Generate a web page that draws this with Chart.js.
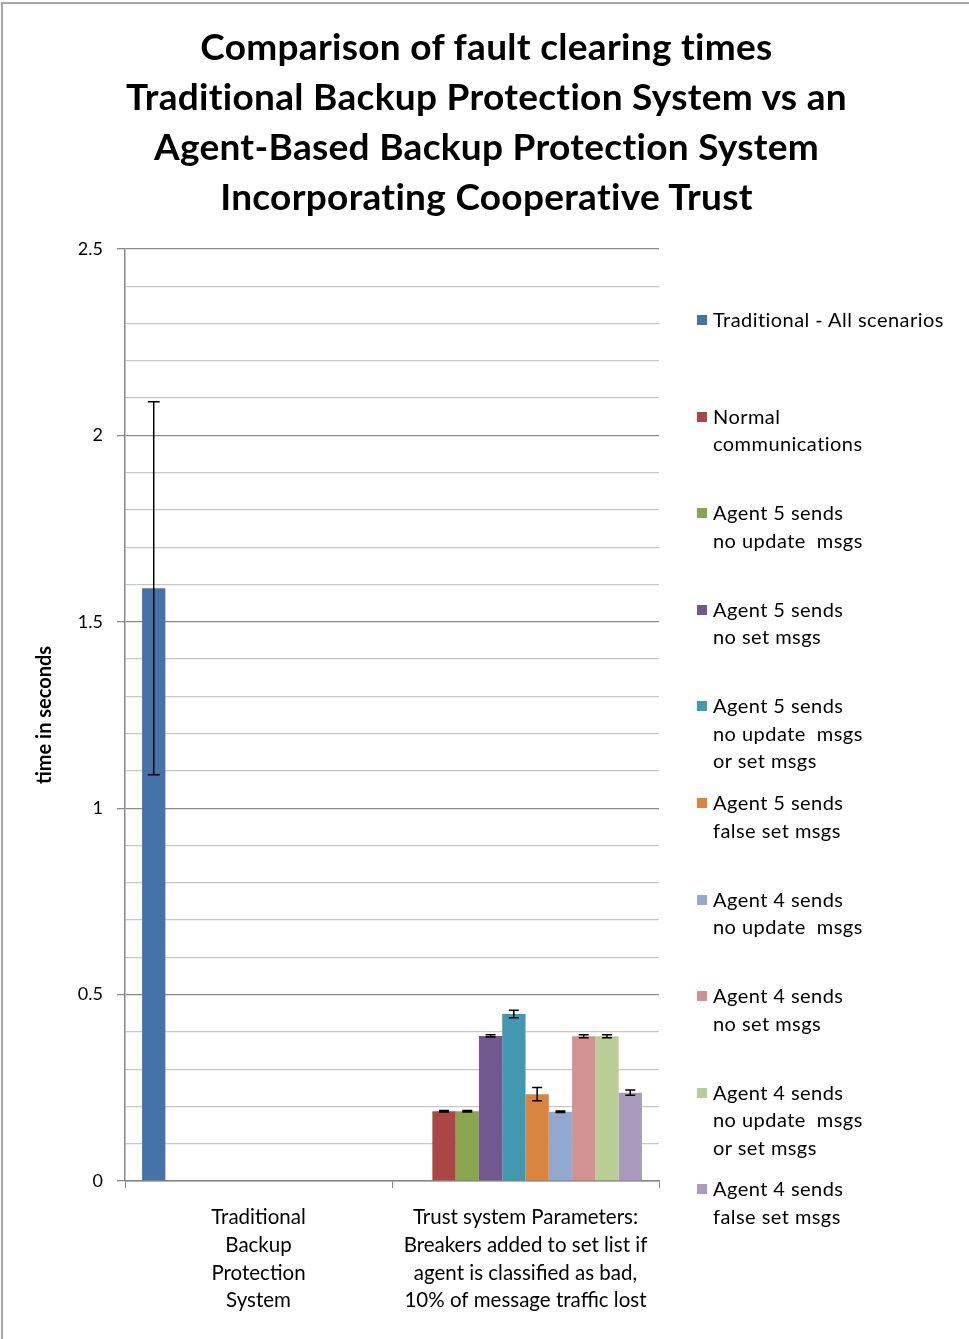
<!DOCTYPE html>
<html>
<head>
<meta charset="utf-8">
<script src="https://cdn.jsdelivr.net/npm/chart.js@4.4.1/dist/chart.umd.min.js"></script>
<style>
  html, body { margin: 0; padding: 0; background: #fff; }
  #wrap { position: relative; width: 969px; height: 1339px; overflow: hidden; font-family: Lato, "Open Sans", sans-serif; }
  #frameTop { position: absolute; left: 1px; top: 2px; width: 968px; height: 2px; background: #a6a6a6; }
  #frameLeft { position: absolute; left: 1px; top: 2px; width: 2px; height: 1337px; background: #a6a6a6; }
  #title { position: absolute; left: 0; top: 21px; width: 973px; text-align: center; font-weight: bold; font-size: 37px; letter-spacing: 0.3px; line-height: 50px; color: #000; }
  #legend { position: absolute; left: 0; top: 0; }
  .item { position: absolute; left: 697px; font-size: 20px; letter-spacing: 0.45px; line-height: 27.5px; color: #000; white-space: pre; }
  .sw { position: absolute; left: 0; top: 9px; width: 10px; height: 10px; }
  .txt { position: absolute; left: 16px; top: 0; }
  canvas { position: absolute; left: 0; top: 0; }
</style>
</head>
<body>
<div id="wrap">
  <canvas id="c" width="969" height="1339"></canvas>
  <div id="frameTop"></div>
  <div id="frameLeft"></div>
  <div id="title"></div>
  <div id="legend"></div>
</div>
<script>
// ---- data ----
const titleLines = [
  "Comparison of fault clearing times",
  "Traditional Backup Protection System vs an",
  "Agent-Based Backup Protection System",
  "Incorporating Cooperative Trust"
];
const categories = [
  ["Traditional", "Backup", "Protection", "System"],
  ["Trust system Parameters:", "Breakers added to set list if", "agent is classified as bad,", "10% of message traffic lost"]
];
const yAxisTitle = "time in seconds";
const yTickLabels = [0, 0.5, 1, 1.5, 2, 2.5];

const traditionalName = ["Traditional - All scenarios"];
const traditionalValues = [1.59, null];
const traditionalErrors = [0.5, null];

const trustNames = [
  ["Normal", "communications"],
  ["Agent 5 sends", "no update  msgs"],
  ["Agent 5 sends", "no set msgs"],
  ["Agent 5 sends", "no update  msgs", "or set msgs"],
  ["Agent 5 sends", "false set msgs"],
  ["Agent 4 sends", "no update  msgs"],
  ["Agent 4 sends", "no set msgs"],
  ["Agent 4 sends", "no update  msgs", "or set msgs"],
  ["Agent 4 sends", "false set msgs"]
];
const trustValues = [0.187, 0.187, 0.389, 0.448, 0.233, 0.186, 0.388, 0.388, 0.237];
const trustErrors = [0.002, 0.002, 0.003, 0.010, 0.018, 0.002, 0.004, 0.004, 0.007];

const seriesColors = ["#4572A7", "#AA4643", "#89A54E", "#71588F", "#4198AF", "#DB843D", "#93A9CF", "#D19392", "#B9CD96", "#A99BBD"];

// ---- build ----
document.getElementById('title').innerHTML = titleLines.map(s => s.replace(/&/g, '&amp;')).join('<br>');

const datasets = [{
  label: traditionalName.join(' '),
  data: traditionalValues,
  errors: traditionalErrors,
  backgroundColor: seriesColors[0],
  borderWidth: 0
}];
trustNames.forEach((nm, i) => {
  datasets.push({
    label: nm.join(' '),
    data: [null, trustValues[i]],
    errors: [null, trustErrors[i]],
    backgroundColor: seriesColors[i + 1],
    borderWidth: 0
  });
});

// legend (HTML)
const legendEl = document.getElementById('legend');
const allNames = [traditionalName].concat(trustNames);
allNames.forEach((lines, i) => {
  const d = document.createElement('div');
  d.className = 'item';
  d.style.top = (306 + i * 96.6) + 'px';
  const sw = document.createElement('div');
  sw.className = 'sw';
  sw.style.background = seriesColors[i];
  const t = document.createElement('div');
  t.className = 'txt';
  t.textContent = lines.join('\n');
  d.appendChild(sw); d.appendChild(t);
  legendEl.appendChild(d);
});

const isMajor = v => Math.abs(v * 2 - Math.round(v * 2)) < 1e-6;

const errorBars = {
  id: 'errorBars',
  afterDatasetsDraw(chart) {
    const ctx = chart.ctx;
    const y = chart.scales.y;
    ctx.save();
    ctx.strokeStyle = '#000';
    ctx.lineWidth = 1.5;
    chart.data.datasets.forEach((ds, di) => {
      const meta = chart.getDatasetMeta(di);
      meta.data.forEach((bar, idx) => {
        const v = ds.data[idx], e = ds.errors[idx];
        if (v == null || e == null) return;
        const x = bar.x;
        const yt = y.getPixelForValue(v + e);
        const yb = y.getPixelForValue(v - e);
        const cap = di === 0 ? 6 : 5;
        ctx.beginPath();
        ctx.moveTo(x, yt); ctx.lineTo(x, yb);
        ctx.moveTo(x - cap, yt); ctx.lineTo(x + cap, yt);
        ctx.moveTo(x - cap, yb); ctx.lineTo(x + cap, yb);
        ctx.stroke();
      });
    });
    ctx.restore();
  }
};

new Chart(document.getElementById('c'), {
  type: 'bar',
  data: { labels: categories, datasets },
  options: {
    responsive: false,
    animation: false,
    events: [],
    layout: { padding: { top: 249, right: 310, bottom: 0, left: 0 } },
    datasets: { bar: { categoryPercentage: 0.872, barPercentage: 1.0 } },
    plugins: { legend: { display: false }, title: { display: false }, tooltip: { enabled: false } },
    scales: {
      x: {
        offset: true,
        grid: { offset: true, drawOnChartArea: false, color: '#868686', tickLength: 7, lineWidth: 1 },
        border: { color: '#868686', width: 1.5 },
        ticks: { color: '#000', font: { family: 'Lato', size: 20.5, lineHeight: 1.35 }, padding: 16, maxRotation: 0, autoSkip: false },
        afterFit(scale) { scale.height = 158; }
      },
      y: {
        min: 0, max: 2.5,
        ticks: {
          stepSize: 0.1,
          color: '#000',
          font: { family: 'Lato', size: 18 },
          padding: 14,
          autoSkip: false,
          callback: (v) => isMajor(v) ? String(yTickLabels[Math.round(v * 2)]) : ''
        },
        grid: {
          color: (c) => isMajor(c.tick.value) ? '#8c8c8c' : '#c8c8c8',
          tickColor: (c) => isMajor(c.tick.value) ? '#8c8c8c' : 'rgba(0,0,0,0)',
          tickLength: 8,
          lineWidth: 1.3
        },
        border: { color: '#868686', width: 1.5 },
        title: { display: true, text: yAxisTitle, color: '#000', font: { family: 'Lato', size: 20, weight: 'bold' }, padding: { top: 33, bottom: 0 } },
        afterFit(scale) { scale.width = 125; }
      }
    }
  },
  plugins: [errorBars]
});
</script>
</body>
</html>
